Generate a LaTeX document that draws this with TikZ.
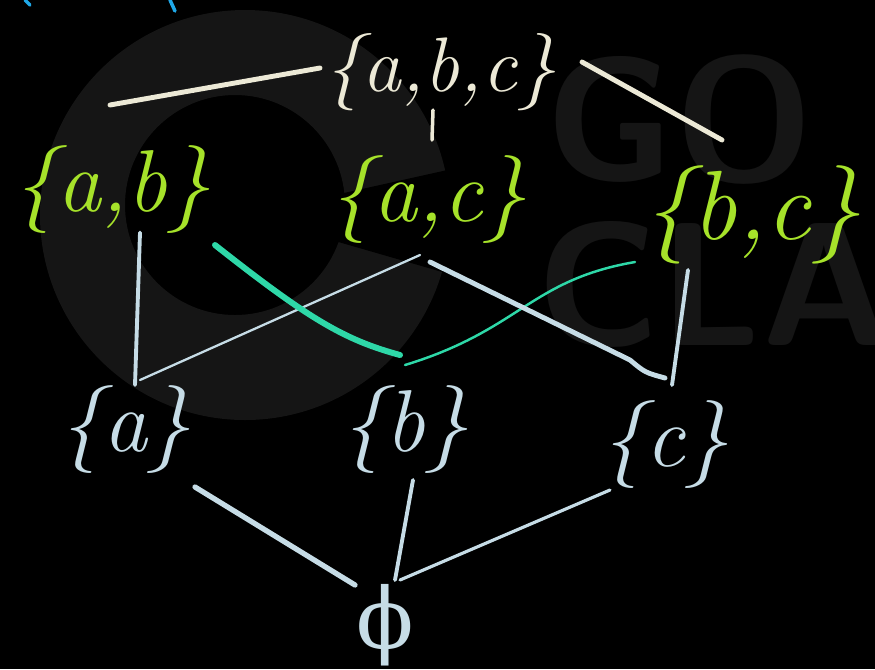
\documentclass[tikz,border=0pt]{standalone}
\usepackage{fontspec}
\newfontfamily\greekfont{DejaVu Serif}
\usetikzlibrary{positioning}

\definecolor{chalk}{HTML}{ECE9D6}
\definecolor{lime}{HTML}{A6E22A}
\definecolor{frost}{HTML}{C6DCE6}
\definecolor{mint}{HTML}{2ED8A8}
\definecolor{wmark}{HTML}{151515}
\definecolor{pen}{HTML}{1FA8E8}

\begin{document}
\begin{tikzpicture}[
    set/.style={inner sep=0pt, font=\fontsize{50}{52}\selectfont\itshape},
    topset/.style={set, text=chalk},
    pair/.style={set, text=lime},
    single/.style={set, text=frost},
    hi/.style={chalk, line width=2.8pt, line cap=round},
    lo/.style={frost, line width=2.2pt, line cap=round},
    slim/.style={frost, line width=1.3pt, line cap=round},
    cross/.style={mint, line width=3.4pt, line cap=round},
    fine/.style={mint, line width=1.4pt, line cap=round}
]

% background and watermark
\fill[black] (0,0) rectangle (17.5,-13.38);
\useasboundingbox (0,0) rectangle (17.5,-13.38);
\begin{scope}
\clip (0,0) rectangle (17.5,-13.38);
\fill[wmark, even odd rule] (4.9,-4.3) circle (4.1) (4.7,-4.1) circle (2.2);
\fill[black] (4.9,-4.3) -- (9.4,-3.3) -- (9.4,-5.6) -- cycle;
\node[text=wmark, font=\fontsize{100}{100}\sffamily\bfseries] (go) at (13.6,-2.4) {GO};
\node[text=wmark, font=\fontsize{100}{100}\sffamily\bfseries, anchor=west] (clas) at (10.6,-5.7) {CLAS};
\end{scope}
\draw[pen, line width=2pt, line cap=round] (0.5,0) -- (0.6,-0.1);
\draw[pen, line width=2pt, line cap=round] (3.4,0) -- (3.5,-0.22);

% the sets
\node[topset, font=\fontsize{44}{46}\selectfont\itshape] (abc) at (8.8,-1.45) {\{a,b,c\}};

\node[pair] (ab) at (2.24,-3.8) {\{a,b\}};
\node[pair] (ac) at (8.56,-4.0) {\{a,c\}};
\node[pair, font=\fontsize{56}{58}\selectfont\itshape] (bc) at (15.04,-4.3) {\{b,c\}};

\node[single] (a) at (2.5,-8.6) {\{a\}};
\node[single] (b) at (8.1,-8.6) {\{b\}};
\node[single] (c) at (13.3,-8.9) {\{c\}};

\node[single, font=\fontsize{48}{50}\greekfont] (empty) at (7.7,-12.5) {ϕ};

% top layer
\draw[hi] ([shift={(-2.4,0.09)}]abc.center) -- ([shift={(-0.04,1.7)}]ab.center);
\draw[hi, line width=2pt] ([shift={(-0.14,-0.75)}]abc.center) -- ([shift={(0.08,1.2)}]ac.center);
\draw[hi] ([shift={(2.84,0.21)}]abc.center) -- ([shift={(-0.6,1.5)}]bc.center);

% middle layer
\draw[lo] ([shift={(0.56,-0.85)}]ab.center) -- ([shift={(0.2,0.9)}]a.center);
\draw[slim] ([shift={(0.3,1.0)}]a.center) -- ([shift={(-0.16,-1.1)}]ac.center);
\draw[cross] ([shift={(2.06,-1.1)}]ab.center)
    .. controls (6.2,-6.4) and (6.9,-6.8) .. ([shift={(-0.1,1.5)}]b.center);
\draw[fine] ([shift={(0,1.3)}]b.center)
    .. controls (10.4,-6.6) and (10.6,-5.6) .. ([shift={(-2.34,-0.94)}]bc.center);
\draw[lo, line width=2.8pt] ([shift={(0.04,-1.24)}]ac.center)
    -- (12.6,-7.2) .. controls (12.9,-7.45) .. ([shift={(0,1.34)}]c.center);
\draw[lo] ([shift={(-1.28,-1.1)}]bc.center) -- ([shift={(0.14,1.2)}]c.center);

% bottom layer
\draw[lo, line width=3pt] ([shift={(1.4,-1.14)}]a.center) -- ([shift={(-0.6,0.8)}]empty.center);
\draw[lo] ([shift={(0.16,-1.0)}]b.center) -- ([shift={(0.2,0.9)}]empty.center);
\draw[slim, line width=1.8pt] ([shift={(-1.1,-0.9)}]c.center) -- ([shift={(0.3,0.9)}]empty.center);

\end{tikzpicture}
\end{document}
